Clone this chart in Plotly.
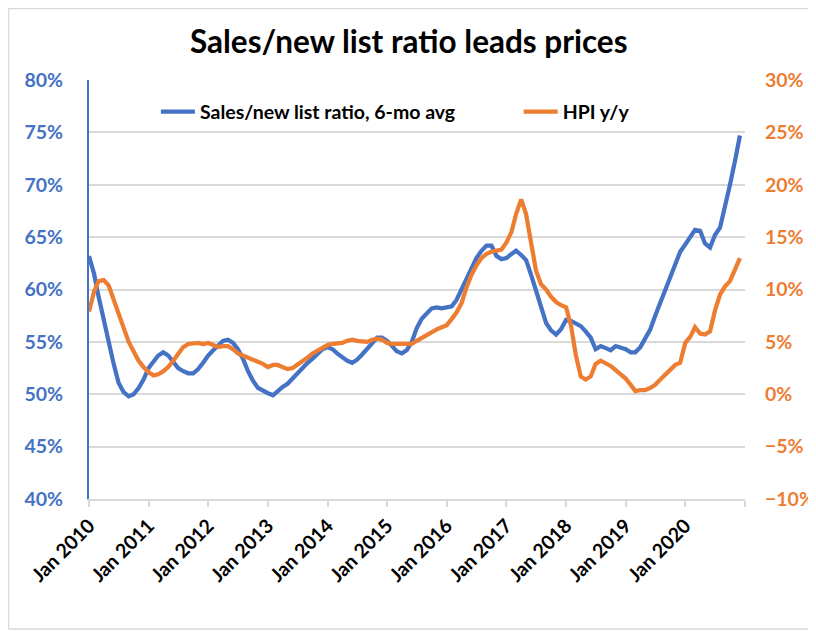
import pandas as pd
import plotly.graph_objects as go

# monthly, Jan 2010 .. Dec 2020
months = pd.date_range("2010-01-01", periods=132, freq="MS")
year_ticks = pd.date_range("2010-01-01", "2021-01-01", freq="YS")
year_labels = [d.strftime("%b %Y") for d in year_ticks[:-1]] + [""]

sales_new_list = [
    63.2, 61.5, 59.3, 57.0, 55.0, 52.9, 51.1, 50.2, 49.8, 50.0, 50.6, 51.4,
    52.5, 53.2, 53.7, 54.0, 53.7, 53.1, 52.5, 52.2, 52.0, 52.0, 52.4, 53.0,
    53.7, 54.2, 54.7, 55.1, 55.2, 54.9, 54.3, 53.4, 52.2, 51.3, 50.6, 50.3,
    50.1, 49.9, 50.3, 50.7, 51.0, 51.5, 52.1, 52.6, 53.0, 53.4, 53.9, 54.3,
    54.5, 54.3, 53.9, 53.5, 53.2, 53.0, 53.3, 53.8, 54.3, 54.8, 55.4, 55.4,
    55.1, 54.6, 54.1, 53.9, 54.2, 55.0, 56.3, 57.2, 57.7, 58.2, 58.3, 58.2,
    58.3, 58.4, 59.0, 60.0, 61.2, 62.2, 63.0, 63.7, 64.2, 64.2, 63.2, 62.9,
    63.0, 63.4, 63.7, 63.3, 62.8, 61.4, 60.0, 58.4, 56.8, 56.1, 55.7, 56.2,
    57.1, 57.0, 56.8, 56.5, 56.0, 55.4, 54.3, 54.6, 54.4, 54.2, 54.6, 54.5,
    54.3, 54.0, 54.0, 54.5, 55.3, 56.2, 57.5, 58.7, 60.0, 61.2, 62.4, 63.6,
    64.3, 65.0, 65.7, 65.6, 64.4, 64.0, 65.2, 65.9, 67.8, 70.0, 72.3, 74.7,
]

hpi_yy = [
    7.9, 9.8, 10.8, 10.9, 10.4, 9.0, 7.6, 6.2, 5.0, 4.1, 3.2, 2.6,
    2.1, 1.8, 1.9, 2.2, 2.6, 3.2, 3.9, 4.5, 4.8, 4.9, 4.9, 4.8,
    4.9, 4.7, 4.5, 4.6, 4.6, 4.3, 3.9, 3.7, 3.5, 3.2, 3.0, 2.9,
    2.6, 2.8, 2.8, 2.6, 2.4, 2.5, 2.8, 3.2, 3.5, 3.9, 4.2, 4.5,
    4.7, 4.8, 4.8, 4.9, 5.1, 5.2, 5.1, 5.1, 5.0, 5.2, 5.3, 5.2,
    4.9, 4.8, 4.8, 4.7, 4.7, 4.8, 5.1, 5.4, 5.7, 6.0, 6.2, 6.4,
    6.6, 7.2, 7.8, 8.7, 10.2, 11.4, 12.3, 13.0, 13.4, 13.6, 13.7, 13.8,
    14.5, 15.5, 17.2, 18.6, 17.2, 14.5, 11.8, 10.5, 10.0, 9.3, 8.8, 8.5,
    8.3, 6.5, 3.8, 1.7, 1.4, 1.7, 2.9, 3.2, 3.0, 2.7, 2.3, 1.9,
    1.5, 0.9, 0.3, 0.4, 0.4, 0.6, 0.9, 1.4, 1.9, 2.4, 2.8, 3.0,
    4.9, 5.5, 6.4, 5.8, 5.7, 6.0, 8.0, 9.5, 10.3, 10.8, 11.8, 13.0,
]

BLUE = "#4472C4"
ORANGE = "#ED7D31"
GRID = "#d9d9d9"
FONT = "Lato"

fig = go.Figure()
fig.add_trace(go.Scatter(x=months, y=sales_new_list, mode="lines",
                         name="Sales/new list ratio, 6-mo avg", legend="legend",
                         line=dict(color=BLUE, width=4.25)))
fig.add_trace(go.Scatter(x=months, y=hpi_yy, mode="lines", name="HPI y/y",
                         yaxis="y2", legend="legend2",
                         line=dict(color=ORANGE, width=4.25)))

# outer chart border (paper coords relative to the plot area)
fig.add_shape(type="rect", xref="paper", yref="paper",
              x0=-0.1227, x1=1.1037, y0=-0.3103, y1=1.1707,
              line=dict(color=GRID, width=1.5), layer="below")

legend_font = dict(size=19.5, family=FONT, color="black", weight="bold")

# page body has an 8px margin, so the figure is 8px smaller and margins shifted
fig.update_layout(
    width=808, height=623,
    margin=dict(l=81, r=71, t=72, b=132, autoexpand=False),
    paper_bgcolor="white", plot_bgcolor="white",
    font=dict(family=FONT, color="black"),
    title=dict(text="<b>Sales/new list ratio leads prices</b>",
               x=0.496, xref="container", xanchor="center",
               y=0.946, yref="container", yanchor="middle",
               font=dict(size=31.5, family=FONT, color="black")),
    showlegend=True,
    legend=dict(x=0.102, y=0.9236, xanchor="left", yanchor="middle",
                bgcolor="rgba(0,0,0,0)", font=legend_font, itemwidth=34),
    legend2=dict(x=0.655, y=0.9236, xanchor="left", yanchor="middle",
                 bgcolor="rgba(0,0,0,0)", font=legend_font, itemwidth=34),
    xaxis=dict(range=["2010-01-01", "2021-01-01"], tickmode="array",
               tickvals=year_ticks, ticktext=year_labels, tickangle=-45,
               tickfont=dict(size=19.5, family=FONT, color="black", weight="bold"),
               showgrid=False, showline=True, linecolor=GRID, linewidth=1.5,
               ticks="outside", ticklen=6, tickcolor=GRID, tickwidth=1.5,
               zeroline=False, automargin=False),
    yaxis=dict(range=[40, 80], dtick=5, ticksuffix="%",
               tickfont=dict(size=19.5, family=FONT, color=BLUE, weight="bold"),
               showgrid=True, gridcolor=GRID, gridwidth=1.5,
               showline=True, linecolor=BLUE, linewidth=2,
               ticklabelstandoff=20, zeroline=False, automargin=False),
    yaxis2=dict(range=[-10, 30], dtick=5, ticksuffix="%", overlaying="y", side="right",
                tickfont=dict(size=19.5, family=FONT, color=ORANGE, weight="bold"),
                showgrid=False, showline=False, ticklabelstandoff=19,
                zeroline=False, automargin=False),
)

fig.write_html("out.html")
